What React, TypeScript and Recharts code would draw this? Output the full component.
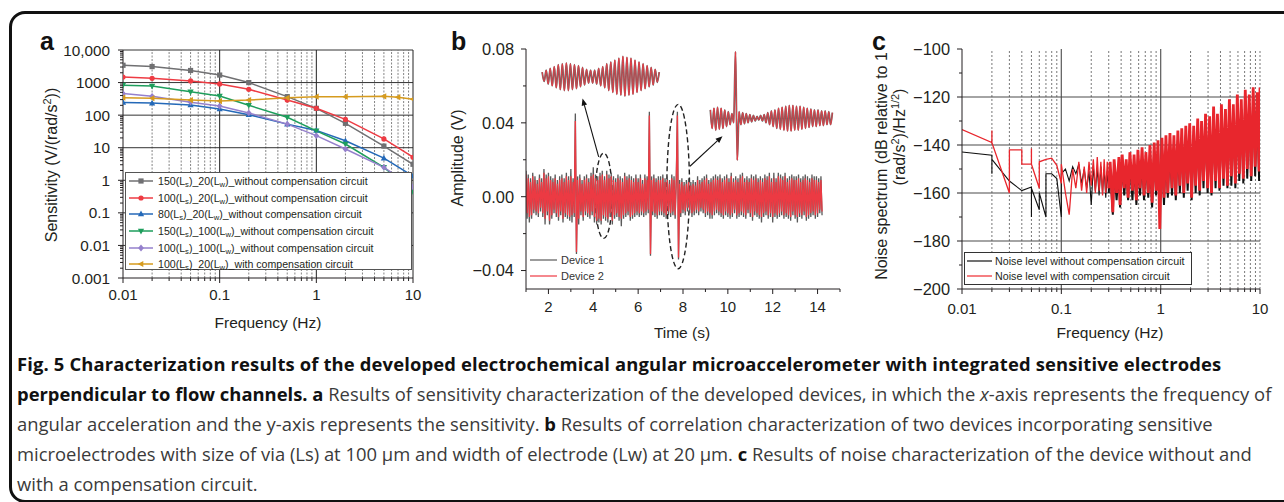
import React from 'react';
import { LineChart, Line, XAxis, YAxis, ReferenceLine, ReferenceArea, Legend } from 'recharts';

const FONT = '"Liberation Sans", Arial, Helvetica, sans-serif';
const CAPTION_FONT = '"Open Sans", "Noto Sans", sans-serif';
const INK = '#231f20';

// ---------- panel a : sensitivity vs frequency ----------
const freqA = [0.01, 0.02, 0.05, 0.1, 0.2, 0.5, 1, 2, 5, 10];
const freqAComp = [0.01, 0.02, 0.05, 0.1, 0.2, 0.5, 1, 2, 5, 7, 10];
const sens150x20 = [3400, 3100, 2350, 1700, 1000, 370, 162, 56, 11.2, 3.1];
const sens100x20 = [1480, 1350, 1120, 910, 620, 290, 162, 74, 18.6, 5.1];
const sens80x20 = [245, 235, 205, 155, 103, 53, 34, 16.3, 4.8, 1.35];
const sens150x100 = [830, 780, 520, 385, 200, 86, 33, 13, 2.5, 0.45];
const sens100x100 = [460, 380, 250, 190, 117, 53, 23.5, 9.1, 2.5, 0.63];
const sensComp = [345, 330, 290, 270, 290, 340, 370, 370, 380, 355, 310];

const seriesA = [
  { name: '150(Ls)_20(Lw)_without compensation circuit', freq: freqA, values: sens150x20, color: '#707072', marker: 'square' },
  { name: '100(Ls)_20(Lw)_without compensation circuit', freq: freqA, values: sens100x20, color: '#ee3b43', marker: 'circle' },
  { name: '80(Ls)_20(Lw)_without compensation circuit', freq: freqA, values: sens80x20, color: '#2469b8', marker: 'up' },
  { name: '150(Ls)_100(Lw)_without compensation circuit', freq: freqA, values: sens150x100, color: '#1e9e5c', marker: 'down' },
  { name: '100(Ls)_100(Lw)_without compensation circuit', freq: freqA, values: sens100x100, color: '#9580cc', marker: 'diamond' },
  { name: '100(Ls)_20(Lw)_with compensation circuit', freq: freqAComp, values: sensComp, color: '#d69b1e', marker: 'left' },
];

const minorSteps = [2, 3, 4, 5, 6, 7, 8, 9];
const logMajorX = [0.01, 0.1, 1, 10];
const logMinorX = [0.01, 0.1, 1].flatMap(d => minorSteps.map(m => +(d * m).toPrecision(3)));
const logMajorYA = [0.001, 0.01, 0.1, 1, 10, 100, 1000, 10000];
const logMinorYA = [0.001, 0.01, 0.1, 1, 10, 100, 1000].flatMap(d => minorSteps.map(m => +(d * m).toPrecision(3)));

// ---------- panel b : amplitude vs time (mV) ----------
const timeB = [
  1, 1.05, 1.1, 1.15, 1.2, 1.25, 1.3, 1.35, 1.4, 1.45, 1.5, 1.55, 1.6, 1.65, 1.7, 1.75, 1.8, 1.85, 1.9, 1.95,
  2, 2.05, 2.1, 2.15, 2.2, 2.25, 2.3, 2.35, 2.4, 2.45, 2.5, 2.55, 2.6, 2.65, 2.7, 2.75, 2.8, 2.85, 2.9, 2.95,
  3, 3.05, 3.1, 3.15, 3.2, 3.25, 3.3, 3.35, 3.4, 3.45, 3.5, 3.55, 3.6, 3.65, 3.7, 3.75, 3.8, 3.85, 3.9, 3.95,
  4, 4.05, 4.1, 4.15, 4.2, 4.25, 4.3, 4.35, 4.4, 4.45, 4.5, 4.55, 4.6, 4.65, 4.7, 4.75, 4.8, 4.85, 4.9, 4.95,
  5, 5.05, 5.1, 5.15, 5.2, 5.25, 5.3, 5.35, 5.4, 5.45, 5.5, 5.55, 5.6, 5.65, 5.7, 5.75, 5.8, 5.85, 5.9, 5.95,
  6, 6.05, 6.1, 6.15, 6.2, 6.25, 6.3, 6.35, 6.4, 6.45, 6.5, 6.55, 6.6, 6.65, 6.7, 6.75, 6.8, 6.85, 6.9, 6.95,
  7, 7.05, 7.1, 7.15, 7.2, 7.25, 7.3, 7.35, 7.4, 7.45, 7.5, 7.55, 7.6, 7.65, 7.7, 7.75, 7.8, 7.85, 7.9, 7.95,
  8, 8.05, 8.1, 8.15, 8.2, 8.25, 8.3, 8.35, 8.4, 8.45, 8.5, 8.55, 8.6, 8.65, 8.7, 8.75, 8.8, 8.85, 8.9, 8.95,
  9, 9.05, 9.1, 9.15, 9.2, 9.25, 9.3, 9.35, 9.4, 9.45, 9.5, 9.55, 9.6, 9.65, 9.7, 9.75, 9.8, 9.85, 9.9, 9.95,
  10, 10.05, 10.1, 10.15, 10.2, 10.25, 10.3, 10.35, 10.4, 10.45, 10.5, 10.55, 10.6, 10.65, 10.7, 10.75, 10.8, 10.85, 10.9, 10.95,
  11, 11.05, 11.1, 11.15, 11.2, 11.25, 11.3, 11.35, 11.4, 11.45, 11.5, 11.55, 11.6, 11.65, 11.7, 11.75, 11.8, 11.85, 11.9, 11.95,
  12, 12.05, 12.1, 12.15, 12.2, 12.25, 12.3, 12.35, 12.4, 12.45, 12.5, 12.55, 12.6, 12.65, 12.7, 12.75, 12.8, 12.85, 12.9, 12.95,
  13, 13.05, 13.1, 13.15, 13.2, 13.25, 13.3, 13.35, 13.4, 13.45, 13.5, 13.55, 13.6, 13.65, 13.7, 13.75, 13.8, 13.85, 13.9, 13.95,
  14, 14.05, 14.1, 14.15, 14.2,
];
const device1mV = [
  14, -12, 12, -14, 10, -12, 13, -9, 11, -10, 9, -11, 12, -8, 10, -11, 15, -15, 12, -10,
  13, -15, 11, -12, 10, -9, 12, -11, 9, -13, 11, -10, 12, -14, 10, -11, 13, -12, 11, -13,
  15, -14, 10, -11, 45, -31, 11, -15, 12, -10, 9, -13, 11, -10, 12, -11, 10, -12, 13, -10,
  16, -14, 12, -15, 11, -14, 13, -15, 14, -12, 11, -13, 14, -14, 12, -11, 13, -15, 11, -12,
  10, -11, 12, -13, 11, -16, 10, -12, 13, -11, 11, -10, 12, -13, 11, -12, 10, -11, 12, -10,
  10, -11, 12, -10, 9, -11, 12, -10, 11, -9, 46, -32, 11, -10, 12, -11, 10, -12, 11, -10,
  11, -10, 12, -11, 10, -12, 11, -10, 9, -11, 12, -10, 11, -12, 10, 46, -34, 9, -11, 10,
  -9, 8, -10, 9, -8, 10, -9, 8, -11, 9, -10, 8, -9, 11, -10, 9, -8, 10, -9, 11,
  -11, 12, -10, 9, -12, 10, -12, 11, -10, 12, -9, 11, -10, 12, -11, 10, -12, 11, -10, 12,
  -11, 10, -12, 13, -11, 10, -9, 11, -12, 10, -11, 12, -10, 13, -11, 10, -12, 11, -9, 10,
  -11, 12, -13, 11, -10, 12, -11, 10, -12, 11, -14, 10, -11, 12, -10, 11, -12, 13, -11, 10,
  -14, 13, -11, 10, -12, 13, -11, 12, -10, 11, -12, 13, -11, 10, -12, 11, -13, 12, -10, 11,
  -12, 11, -14, 12, -11, 10, -12, 11, -10, 12, -13, 11, -12, 10, -11, 12, -10, 11, -12, 11,
  -11, 10, -9, 11, -10,
];
const device2mV = [
  12, -9, 10, -11, 8, -10, 11, -7, 9, -8, 7, -9, 10, -6, 8, -9, 13, -12, 10, -8,
  11, -13, 9, -10, 8, -7, 10, -9, 7, -11, 9, -8, 10, -12, 8, -9, 11, -10, 9, -11,
  11, -10, 8, -9, 41, -30, 9, -12, 10, -8, 7, -11, 9, -8, 10, -9, 8, -10, 11, -8,
  12, -11, 10, -13, 9, -12, 11, -13, 12, -10, 9, -11, 12, -12, 10, -9, 11, -13, 9, -10,
  8, -9, 10, -11, 9, -12, 8, -10, 11, -9, 9, -8, 10, -11, 9, -10, 8, -9, 10, -8,
  8, -9, 10, -8, 7, -9, 10, -8, 9, -7, 44, -31, 9, -8, 10, -9, 8, -10, 9, -8,
  9, -8, 10, -9, 8, -10, 9, -8, 7, -9, 10, -8, 9, -10, 8, 44, -33, 7, -9, 8,
  -7, 6, -8, 7, -6, 8, -7, 6, -9, 7, -8, 6, -7, 9, -8, 7, -6, 8, -7, 9,
  -9, 10, -8, 7, -9, 8, -10, 9, -8, 10, -7, 9, -8, 10, -9, 8, -10, 9, -8, 10,
  -9, 8, -10, 11, -9, 8, -7, 9, -10, 8, -9, 10, -8, 11, -9, 8, -10, 9, -7, 8,
  -9, 10, -11, 9, -8, 10, -9, 8, -10, 9, -11, 8, -9, 10, -8, 9, -10, 11, -9, 8,
  -11, 10, -9, 8, -10, 11, -9, 10, -8, 9, -10, 11, -9, 8, -10, 9, -11, 10, -8, 9,
  -10, 9, -11, 10, -9, 8, -10, 9, -8, 10, -11, 9, -10, 8, -9, 10, -8, 9, -10, 9,
  -9, 8, -7, 9, -8,
];
// zoomed waveforms drawn inside panel b
const inset1Time = [
  1.72, 1.81, 1.9, 1.99, 2.08, 2.17, 2.26, 2.35, 2.44, 2.53, 2.62, 2.71, 2.8, 2.89, 2.98, 3.07, 3.16, 3.25, 3.34, 3.43,
  3.52, 3.61, 3.7, 3.79, 3.88, 3.97, 4.06, 4.15, 4.24, 4.33, 4.42, 4.51, 4.6, 4.69, 4.78, 4.87, 4.96, 5.05, 5.14, 5.23,
  5.32, 5.41, 5.5, 5.59, 5.68, 5.77, 5.86, 5.95, 6.04, 6.13, 6.22, 6.31, 6.4, 6.49, 6.58, 6.67, 6.76, 6.85, 6.94,
];
const inset1mV = [
  67.5, 62.5, 68.5, 61, 69.5, 60, 70.5, 59, 71.5, 58,
  72, 57.5, 72.5, 57.5, 72, 58, 71.5, 58.5, 71, 59.5,
  70, 60.5, 69, 61.5, 68.5, 61.5, 68.5, 61, 69.5, 60,
  70.5, 59, 72, 57.5, 73, 56.5, 74, 55.5, 75, 55,
  76, 54.5, 75.5, 55, 75, 55.5, 74, 56.5, 73, 57.5,
  72, 58.5, 71, 59.5, 70, 60.5, 69, 62, 67.5,
];
const inset2Time = [
  9.22, 9.3, 9.38, 9.46, 9.54, 9.62, 9.7, 9.78, 9.86, 9.94, 10.02, 10.1, 10.18, 10.26, 10.34, 10.42, 10.5, 10.58, 10.66, 10.74,
  10.82, 10.9, 10.98, 11.06, 11.14, 11.22, 11.3, 11.38, 11.46, 11.54, 11.62, 11.7, 11.78, 11.86, 11.94, 12.02, 12.1, 12.18, 12.26, 12.34,
  12.42, 12.5, 12.58, 12.66, 12.74, 12.82, 12.9, 12.98, 13.06, 13.14, 13.22, 13.3, 13.38, 13.46, 13.54, 13.62, 13.7, 13.78, 13.86, 13.94,
  14.02, 14.1, 14.18, 14.26, 14.34, 14.42, 14.5, 14.58, 14.66,
];
const inset2mV = [
  47, 37, 48, 36, 48.5, 36.5, 48, 37, 47, 38,
  46, 39, 45, 40, 78.5, 19.8, 46, 39, 45.5, 39.5,
  45, 40, 44.5, 40.5, 44, 41, 43.5, 41.5, 44, 41,
  44.5, 40, 45.5, 39, 46.5, 38, 47, 37, 48, 36.5,
  48.5, 36, 49, 35.5, 49.5, 35.5, 49.5, 36, 49, 36,
  49, 36.5, 48.5, 37, 48, 37.5, 47.5, 38, 47, 38,
  47, 38.5, 46.5, 38.5, 46.5, 39, 46, 39, 45.5,
];
const ellipsesB = [
  { t1: 4.09, t2: 4.84, v1: -0.0226, v2: 0.0236 },
  { t1: 7.28, t2: 8.29, v1: -0.039, v2: 0.05 },
];
const arrowsB = [
  { from: { x: 4.24, y: 0.0216 }, to: { x: 3.52, y: 0.0532 } },
  { from: { x: 8.31, y: 0.0165 }, to: { x: 9.76, y: 0.0328 } },
];
const timeMajor = [2, 4, 6, 8, 10, 12, 14];
const timeMinor = [1, 3, 5, 7, 9, 11, 13, 15];
const ampMajor = [-0.04, 0, 0.04, 0.08];
const ampMinor = [-0.02, 0.02, 0.06];

// ---------- panel c : noise spectrum ----------
const freqC = [
  0.01, 0.02, 0.02, 0.02, 0.03, 0.03, 0.04, 0.04, 0.05, 0.05,
  0.05, 0.06, 0.06, 0.07, 0.07, 0.08, 0.09, 0.1, 0.1, 0.11,
  0.12, 0.13, 0.14, 0.15, 0.16, 0.17, 0.18, 0.19, 0.2, 0.21,
  0.22, 0.23, 0.24, 0.25, 0.26, 0.27, 0.28, 0.29, 0.3,
  0.31, 0.33, 0.34, 0.36, 0.38, 0.39, 0.41, 0.43, 0.45, 0.47,
  0.49, 0.52, 0.54, 0.57, 0.59, 0.62, 0.65, 0.68, 0.71, 0.75,
  0.78, 0.82, 0.86, 0.9, 0.94, 0.98, 1.03, 1.08, 1.13, 1.18,
  1.24, 1.3, 1.36, 1.42, 1.49, 1.56, 1.63, 1.71, 1.79, 1.87,
  1.96, 2.05, 2.15, 2.25, 2.36, 2.47, 2.58, 2.7, 2.83, 2.97,
  3.11, 3.25, 3.41, 3.57, 3.73, 3.91, 4.09, 4.29, 4.49, 4.7,
  4.92, 5.15, 5.39, 5.65, 5.91, 6.19, 6.48, 6.79, 7.11, 7.44,
  7.79, 8.16, 8.54, 8.94, 9.36, 9.8, 10,
];
const noiseWithout = [
  -142.9, -144.3, -152, -146, -155, -155, -159, -159, -157.5, -170,
  -158, -167, -160, -170, -152, -152, -154, -170, -152, -150,
  -155, -149, -152, -148, -156, -150, -158, -151, -165, -149,
  -159, -150, -161, -149, -160, -150, -162, -151, -160,
  -150, -169, -149, -163, -150, -166, -148, -161, -149, -163,
  -147, -163, -148, -165, -146, -161, -145, -163, -146, -162,
  -144, -166, -143, -161, -142, -166, -141, -165, -140, -162,
  -139, -161, -140, -163, -138, -160, -137, -162, -136, -159,
  -135, -163, -136, -160, -133, -161, -134, -158, -131, -160,
  -132, -161, -128, -158, -131, -159, -127, -157, -129, -158,
  -125, -157, -127, -158, -123, -155, -125, -156, -121, -154,
  -123, -155, -120, -153, -122, -155, -120,
];
const noiseWith = [
  -133.6, -139, -134, -139, -160, -142, -142, -148, -148, -141.5,
  -148, -158, -147, -146, -146, -145.5, -148.5, -156, -148, -160,
  -169, -150, -158, -147, -159, -149, -160, -147, -157, -146,
  -160, -145, -159, -147, -161, -146, -160, -147, -158,
  -147, -168, -146, -160, -145, -165, -144, -158, -146, -162,
  -143, -159, -144, -163, -142, -158, -141, -161, -143, -160,
  -140, -164, -139, -159, -138, -175, -137, -162, -136, -160,
  -135, -158, -136, -161, -134, -157, -133, -160, -132, -156,
  -131, -162, -132, -157, -129, -159, -130, -155, -127, -158,
  -128, -160, -124, -155, -127, -158, -123, -154, -125, -157,
  -121, -153, -123, -156, -119, -152, -121, -154, -117, -150,
  -119, -153, -116, -149, -118, -151, -116,
];
const denseFrom = 0.3; // above this frequency the FFT lines merge into a solid band
const dbMajor = [-200, -180, -160, -140, -120, -100];
const dbMinor = [-190, -170, -150, -130, -110];

// ---------- helpers ----------
const fmtLog = (v: number) => (v >= 10000 ? v.toLocaleString('en-US') : String(v));
const minus = (s: string) => s.replace('-', '\u2212');
const fmtAmp = (v: number) => minus(v.toFixed(2));
const fmtInt = (v: number) => minus(String(v));

function bottomTick(majors: number[], fmt: (v: number) => string, fontSize: number, gap: number) {
  return (p: any) => {
    const v = p.payload.value as number;
    const major = majors.includes(v);
    return (
      <g key={`bt-${p.index}`}>
        <line x1={p.x} x2={p.x} y1={p.y} y2={p.y + (major ? 5 : 3)} stroke={INK} strokeWidth={1} />
        {major && (
          <text x={p.x} y={p.y + gap} textAnchor="middle" fontSize={fontSize} fontFamily={FONT} fill={INK}>
            {fmt(v)}
          </text>
        )}
      </g>
    );
  };
}

function leftTick(majors: number[], fmt: (v: number) => string, fontSize: number, gap: number) {
  return (p: any) => {
    const v = p.payload.value as number;
    const major = majors.includes(v);
    return (
      <g key={`lt-${p.index}`}>
        <line x1={p.x} x2={p.x - (major ? 5 : 3)} y1={p.y} y2={p.y} stroke={INK} strokeWidth={1} />
        {major && (
          <text x={p.x - gap} y={p.y} dy="0.36em" textAnchor="end" fontSize={fontSize} fontFamily={FONT} fill={INK}>
            {fmt(v)}
          </text>
        )}
      </g>
    );
  };
}

function markerShape(kind: string, cx: number, cy: number, color: string, key: string, r = 2.6) {
  switch (kind) {
    case 'square':
      return <rect key={key} x={cx - r} y={cy - r} width={2 * r} height={2 * r} fill={color} />;
    case 'circle':
      return <circle key={key} cx={cx} cy={cy} r={r} fill={color} />;
    case 'up':
      return <path key={key} d={`M${cx},${cy - r * 1.3}L${cx + r * 1.2},${cy + r * 0.9}L${cx - r * 1.2},${cy + r * 0.9}Z`} fill={color} />;
    case 'down':
      return <path key={key} d={`M${cx},${cy + r * 1.3}L${cx + r * 1.2},${cy - r * 0.9}L${cx - r * 1.2},${cy - r * 0.9}Z`} fill={color} />;
    case 'diamond':
      return <path key={key} d={`M${cx},${cy - r * 1.3}L${cx + r * 1.1},${cy}L${cx},${cy + r * 1.3}L${cx - r * 1.1},${cy}Z`} fill={color} />;
    default:
      return <path key={key} d={`M${cx - r * 1.3},${cy}L${cx + r * 0.9},${cy - r * 1.2}L${cx + r * 0.9},${cy + r * 1.2}Z`} fill={color} />;
  }
}

function subLabel(name: string) {
  return name.split(/(L[sw])/).map((part, i) =>
    /^L[sw]$/.test(part) ? (
      <span key={i}>
        L<span style={{ fontSize: '0.72em', verticalAlign: '-0.3em', lineHeight: 0 }}>{part[1]}</span>
      </span>
    ) : (
      <span key={i}>{part}</span>
    )
  );
}

const legendA = () => (
  <div style={{ border: '1px solid #555', background: '#fff', height: 98, boxSizing: 'border-box' }}>
    {seriesA.map(s => (
      <div key={s.name} style={{ display: 'flex', alignItems: 'center', height: 16.6 }}>
        <svg width={30} height={12} style={{ marginLeft: 2 }}>
          <line x1={1} x2={25} y1={6} y2={6} stroke={s.color} strokeWidth={1.5} />
          {markerShape(s.marker, 13, 6, s.color, 'm')}
        </svg>
        <span style={{ fontSize: 10.6, fontFamily: FONT, color: INK, whiteSpace: 'nowrap' }}>{subLabel(s.name)}</span>
      </div>
    ))}
  </div>
);

const legendB = () => (
  <div>
    {[
      { label: 'Device 1', color: '#5a5a5a' },
      { label: 'Device 2', color: '#ee3a43' },
    ].map(d => (
      <div key={d.label} style={{ display: 'flex', alignItems: 'center', height: 15.7 }}>
        <svg width={33} height={10}>
          <line x1={2} x2={29} y1={5} y2={5} stroke={d.color} strokeWidth={1.2} />
        </svg>
        <span style={{ fontSize: 11, fontFamily: FONT, color: '#333' }}>{d.label}</span>
      </div>
    ))}
  </div>
);

const legendC = () => (
  <div style={{ border: '1px solid #333', background: '#fff', height: 33, boxSizing: 'border-box' }}>
    {[
      { label: 'Noise level without compensation circuit', color: '#111' },
      { label: 'Noise level with compensation circuit', color: '#ee2a30' },
    ].map(d => (
      <div key={d.label} style={{ display: 'flex', alignItems: 'center', height: 15.5 }}>
        <svg width={30} height={10}>
          <line x1={2} x2={27} y1={5} y2={5} stroke={d.color} strokeWidth={1.2} />
        </svg>
        <span style={{ fontSize: 10.7, fontFamily: FONT, color: INK, whiteSpace: 'nowrap' }}>{d.label}</span>
      </div>
    ))}
  </div>
);

const ellipseShape = (p: any) => (
  <ellipse
    cx={p.x + p.width / 2}
    cy={p.y + p.height / 2}
    rx={Math.abs(p.width) / 2}
    ry={Math.abs(p.height) / 2}
    fill="none"
    stroke="#222"
    strokeWidth={1.4}
    strokeDasharray="5 3"
  />
);

const arrowShape = (p: any) => {
  const { x1, y1, x2, y2 } = p;
  const ang = Math.atan2(y2 - y1, x2 - x1);
  const len = 7;
  const half = 2.8;
  const bx = x2 - len * Math.cos(ang);
  const by = y2 - len * Math.sin(ang);
  const px = -Math.sin(ang) * half;
  const py = Math.cos(ang) * half;
  return (
    <g>
      <line x1={x1} y1={y1} x2={bx} y2={by} stroke="#111" strokeWidth={1.1} />
      <path d={`M${x2},${y2}L${bx + px},${by + py}L${bx - px},${by - py}Z`} fill="#111" />
    </g>
  );
};

const pairs = (xs: number[], ys: number[], scale = 1) => xs.map((x, i) => ({ x, y: ys[i] * scale }));

// ---------- panels ----------
function PanelA() {
  return (
    <div style={{ position: 'absolute', left: 0, top: 0 }}>
      <LineChart width={430} height={345} margin={{ top: 50, right: 17, bottom: 27, left: 60 }}>
        <XAxis
          type="number"
          dataKey="x"
          scale="log"
          domain={[0.01, 10]}
          allowDataOverflow
          ticks={[...logMajorX, ...logMinorX]}
          interval={0}
          tick={bottomTick(logMajorX, fmtLog, 15, 22)}
          tickLine={false}
          tickSize={0}
          tickMargin={0}
          axisLine={{ stroke: INK }}
          height={40}
        />
        <YAxis
          type="number"
          scale="log"
          domain={[0.001, 10000]}
          allowDataOverflow
          ticks={[...logMajorYA, ...logMinorYA]}
          interval={0}
          tick={leftTick(logMajorYA, fmtLog, 15.3, 13)}
          tickLine={false}
          tickSize={0}
          tickMargin={0}
          axisLine={{ stroke: INK }}
          width={63}
        />
        {logMinorX.map(v => (
          <ReferenceLine key={`vm-${v}`} x={v} stroke="#666" strokeWidth={0.8} strokeDasharray="2 1.5" />
        ))}
        {logMajorYA.slice(1).map(v => (
          <ReferenceLine key={`h-${v}`} y={v} stroke="#333" strokeWidth={1} />
        ))}
        {[0.1, 1, 10].map(v => (
          <ReferenceLine key={`vM-${v}`} x={v} stroke="#222" strokeWidth={1} />
        ))}
        {seriesA.map(s => (
          <Line
            key={s.name}
            name={s.name}
            data={pairs(s.freq, s.values)}
            dataKey="y"
            type="linear"
            stroke={s.color}
            strokeWidth={1.5}
            dot={(p: any) => markerShape(s.marker, p.cx, p.cy, s.color, `${s.marker}-${p.index}`)}
            activeDot={false}
            isAnimationActive={false}
          />
        ))}
        <Legend
          content={legendA}
          layout="vertical"
          align="center"
          verticalAlign="middle"
          wrapperStyle={{ left: 125, top: 172, width: 287, height: 98, right: 'auto', bottom: 'auto' }}
        />
      </LineChart>
    </div>
  );
}

function PanelB() {
  return (
    <div style={{ position: 'absolute', left: 430, top: 0 }}>
      <LineChart width={430} height={345} margin={{ top: 49, right: 20, bottom: 16, left: 36 }}>
        <XAxis
          type="number"
          dataKey="x"
          domain={[1, 15]}
          allowDataOverflow
          ticks={[...timeMajor, ...timeMinor]}
          interval={0}
          tick={bottomTick(timeMajor, v => String(v), 15, 23)}
          tickLine={false}
          tickSize={0}
          tickMargin={0}
          axisLine={{ stroke: INK }}
          height={40}
        />
        <YAxis
          type="number"
          domain={[-0.05, 0.08]}
          allowDataOverflow
          ticks={[...ampMajor, ...ampMinor]}
          interval={0}
          tick={leftTick(ampMajor, fmtAmp, 16.4, 12)}
          tickLine={false}
          tickSize={0}
          tickMargin={0}
          axisLine={{ stroke: INK }}
          width={60}
        />
        <Line data={pairs(timeB, device1mV, 0.001)} dataKey="y" name="Device 1" type="linear" stroke="#5a5a5a" strokeWidth={1.3} dot={false} activeDot={false} isAnimationActive={false} />
        <Line data={pairs(timeB, device2mV, 0.001)} dataKey="y" name="Device 2" type="linear" stroke="#ec3a43" strokeWidth={1.3} dot={false} activeDot={false} isAnimationActive={false} />
        <Line data={pairs(inset1Time, inset1mV, 0.001)} dataKey="y" name="inset1-d1" legendType="none" type="monotone" stroke="#666" strokeWidth={1.8} dot={false} activeDot={false} isAnimationActive={false} />
        <Line data={pairs(inset1Time, inset1mV, 0.001)} dataKey="y" name="inset1-d2" legendType="none" type="monotone" stroke="#ee3a43" strokeWidth={0.9} dot={false} activeDot={false} isAnimationActive={false} />
        <Line data={pairs(inset2Time, inset2mV, 0.001)} dataKey="y" name="inset2-d1" legendType="none" type="monotone" stroke="#666" strokeWidth={1.8} dot={false} activeDot={false} isAnimationActive={false} />
        <Line data={pairs(inset2Time, inset2mV, 0.001)} dataKey="y" name="inset2-d2" legendType="none" type="monotone" stroke="#ee3a43" strokeWidth={0.9} dot={false} activeDot={false} isAnimationActive={false} />
        {ellipsesB.map((e, i) => (
          <ReferenceArea key={`el-${i}`} x1={e.t1} x2={e.t2} y1={e.v1} y2={e.v2} shape={ellipseShape} />
        ))}
        {arrowsB.map((a, i) => (
          <ReferenceLine key={`ar-${i}`} segment={[a.from, a.to]} shape={arrowShape} />
        ))}
        <Legend
          content={legendB}
          layout="vertical"
          align="center"
          verticalAlign="middle"
          wrapperStyle={{ left: 98, top: 252, width: 120, height: 32, right: 'auto', bottom: 'auto' }}
        />
      </LineChart>
    </div>
  );
}

function PanelC() {
  const without = pairs(freqC, noiseWithout);
  const withComp = pairs(freqC, noiseWith);
  const sparse = (d: { x: number }[]) => d.filter(p => p.x <= denseFrom);
  const dense = (d: { x: number }[]) => d.filter(p => p.x >= denseFrom);
  return (
    <div style={{ position: 'absolute', left: 860, top: 0 }}>
      <LineChart width={424} height={345} margin={{ top: 49, right: 24, bottom: 16, left: 42 }}>
        <XAxis
          type="number"
          dataKey="x"
          scale="log"
          domain={[0.01, 10]}
          allowDataOverflow
          ticks={[...logMajorX, ...logMinorX]}
          interval={0}
          tick={bottomTick(logMajorX, fmtLog, 15, 25)}
          tickLine={false}
          tickSize={0}
          tickMargin={0}
          axisLine={{ stroke: INK }}
          height={40}
        />
        <YAxis
          type="number"
          domain={[-200, -100]}
          allowDataOverflow
          ticks={[...dbMajor, ...dbMinor]}
          interval={0}
          tick={leftTick(dbMajor, fmtInt, 16.4, 12)}
          tickLine={false}
          tickSize={0}
          tickMargin={0}
          axisLine={{ stroke: INK }}
          width={60}
        />
        {[...logMinorX, 10].map(v => (
          <ReferenceLine key={`vm-${v}`} x={v} stroke="#555" strokeWidth={0.8} strokeDasharray="2 2" />
        ))}
        {[0.1, 1].map(v => (
          <ReferenceLine key={`vM-${v}`} x={v} stroke="#666" strokeWidth={1.3} />
        ))}
        {[-180, -160, -140, -120].map(v => (
          <ReferenceLine key={`h-${v}`} y={v} stroke="#4a4a4a" strokeWidth={1.2} />
        ))}
        <Line data={sparse(without)} dataKey="y" name="Noise level without compensation circuit" type="linear" stroke="#111" strokeWidth={1.1} dot={false} activeDot={false} isAnimationActive={false} />
        <Line data={dense(without)} dataKey="y" name="without (band)" legendType="none" type="linear" stroke="#111" strokeWidth={2} dot={false} activeDot={false} isAnimationActive={false} />
        <Line data={sparse(withComp)} dataKey="y" name="Noise level with compensation circuit" type="linear" stroke="#e8262d" strokeWidth={1.3} dot={false} activeDot={false} isAnimationActive={false} />
        <Line data={dense(withComp)} dataKey="y" name="with (band)" legendType="none" type="linear" stroke="#e8262d" strokeWidth={2.8} dot={false} activeDot={false} isAnimationActive={false} />
        <Legend
          content={legendC}
          layout="vertical"
          align="center"
          verticalAlign="middle"
          wrapperStyle={{ left: 104, top: 252, width: 228, height: 33, right: 'auto', bottom: 'auto' }}
        />
      </LineChart>
    </div>
  );
}

const abs = (extra: React.CSSProperties): React.CSSProperties => ({ position: 'absolute', whiteSpace: 'nowrap', ...extra });
const centered = (cx: number, cy: number, size: number, rotate = false): React.CSSProperties =>
  abs({
    left: cx,
    top: cy,
    fontSize: size,
    lineHeight: 1,
    color: INK,
    fontFamily: FONT,
    transform: `translate(-50%, -50%)${rotate ? ' rotate(-90deg)' : ''}`,
  });
const sup: React.CSSProperties = { fontSize: '0.68em', verticalAlign: '0.55em', lineHeight: 0 };
const letter = (left: number): React.CSSProperties =>
  abs({ left, top: 29, fontSize: 25, lineHeight: '25px', fontWeight: 700, fontFamily: FONT, color: '#111' });

function Caption() {
  const bold: React.CSSProperties = { fontWeight: 700, color: '#111' };
  const line = (i: number): React.CSSProperties =>
    abs({ left: 17, top: 349 + i * 30, height: 30, lineHeight: '30px', fontSize: 18.4, fontFamily: CAPTION_FONT, color: '#3a3a3a' });
  return (
    <>
      <div style={{ ...line(0), letterSpacing: 0.15 }}>
        <span style={bold}>
          Fig. 5 Characterization results of the developed electrochemical angular microaccelerometer with integrated sensitive electrodes
        </span>
      </div>
      <div style={line(1)}>
        <span style={bold}>perpendicular to flow channels. a</span> Results of sensitivity characterization of the developed devices, in which the{' '}
        <i>x</i>-axis represents the frequency of
      </div>
      <div style={line(2)}>
        angular acceleration and the y-axis represents the sensitivity. <span style={bold}>b</span> Results of correlation characterization of two devices
        incorporating sensitive
      </div>
      <div style={line(3)}>
        microelectrodes with size of via (Ls) at 100 μm and width of electrode (Lw) at 20 μm. <span style={bold}>c</span> Results of noise characterization of
        the device without and
      </div>
      <div style={line(4)}>with a compensation circuit.</div>
    </>
  );
}

export default function App() {
  return (
    <div style={{ position: 'absolute', left: 0, top: 0, width: 1284, height: 502, overflow: 'hidden', background: '#fff' }}>
      <div
        style={{
          position: 'absolute',
          left: 9,
          top: 11,
          width: 1330,
          height: 492,
          border: '3px solid #111',
          borderRadius: 16,
          boxSizing: 'border-box',
        }}
      />
      <PanelA />
      <PanelB />
      <PanelC />

      <div style={letter(40)}>a</div>
      <div style={letter(451)}>b</div>
      <div style={letter(872)}>c</div>

      <div style={centered(51.7, 165, 16, true)}>
        Sensitivity (V/(rad/s<span style={sup}>2</span>))
      </div>
      <div style={centered(268, 322.7, 15.5)}>Frequency (Hz)</div>

      <div style={centered(458, 158, 16, true)}>Amplitude (V)</div>
      <div style={centered(682, 333, 15.5)}>Time (s)</div>

      <div style={centered(881.7, 166, 16, true)}>Noise spectrum (dB relative to 1</div>
      <div style={centered(900, 137, 16, true)}>
        (rad/s<span style={sup}>2</span>)/Hz<span style={sup}>1/2</span>)
      </div>
      <div style={centered(1110, 333, 15.5)}>Frequency (Hz)</div>

      <Caption />
    </div>
  );
}
